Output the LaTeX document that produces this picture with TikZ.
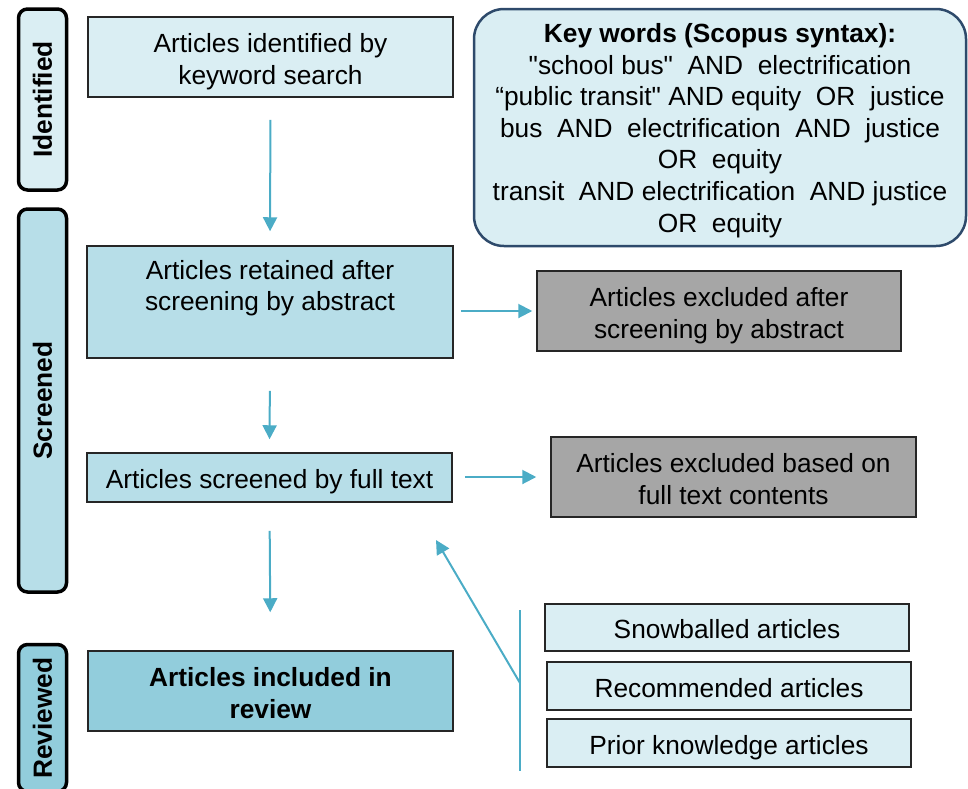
\documentclass[tikz,border=0pt]{standalone}
\usepackage{fontspec}
\setmainfont{Liberation Sans}[Ligatures=TeXOff]
\usetikzlibrary{arrows.meta}
\definecolor{lightblue}{HTML}{DAEEF3}
\definecolor{midblue}{HTML}{B7DEE8}
\definecolor{darkblue}{HTML}{92CDDC}
\definecolor{greybox}{HTML}{A6A6A6}
\definecolor{arrowcol}{HTML}{4BACC6}
\definecolor{navyline}{HTML}{2E4A6B}
\newcommand{\mystrutT}{\rule{0pt}{28.5pt}}
\newcommand{\mystrutB}{\rule[-6pt]{0pt}{6pt}}
\newcommand{\kwstrutT}{\rule{0pt}{26pt}}
\newcommand{\kwstrutB}{\rule[-6.5pt]{0pt}{6.5pt}}
\begin{document}
\begin{tikzpicture}[x=1pt,y=-1pt,
  font=\fontsize{26.3}{31.6}\selectfont,
  box/.style={draw=black!85, line width=1.5pt, inner sep=0pt, align=center},
  phase/.style={draw=black, line width=3.5pt, rounded corners=9pt, inner sep=0pt, rotate=90, minimum height=48pt, font=\fontsize{26.3}{31.6}\selectfont\bfseries},
  flow/.style={draw=arrowcol, line width=2pt, -{Triangle[length=14pt,width=14pt]}},
  feed/.style={draw=arrowcol, line width=2pt},
]
\useasboundingbox (0,0) rectangle (968,788);
\clip (0,0) rectangle (968,788);

% phase labels
\node[phase, fill=lightblue, minimum width=181pt] (phid) at (42.5,99.5) {Identified};
\node[phase, fill=midblue, minimum width=383pt] (phsc) at (42.5,400.5) {Screened};
\node[phase, fill=darkblue, minimum width=147pt] (phre) at (42.5,718) {Reviewed};

% main flow
\node[box, fill=lightblue, minimum width=365pt, minimum height=80pt] (ident) at (270.5,57) {\mystrutT Articles identified by\\keyword search\mystrutB};
\node[box, fill=midblue, minimum width=366pt, minimum height=112pt] (retain) at (270,302) {};
\node[align=center, inner sep=0pt] (retaintext) at (270,288) {Articles retained after\\screening by abstract};
\node[box, fill=midblue, minimum width=365pt, minimum height=49pt] (full) at (269.5,477.5) {\mystrutT Articles screened by full text\mystrutB};
\node[box, fill=darkblue, minimum width=365pt, minimum height=80pt, font=\fontsize{26.3}{31.6}\selectfont\bfseries] (incl) at (270.5,691) {\mystrutT Articles included in\\review\mystrutB};

% excluded
\node[box, fill=greybox, minimum width=364pt, minimum height=80pt] (excl1) at (719,311) {\mystrutT Articles excluded after\\screening by abstract\mystrutB};
\node[box, fill=greybox, minimum width=365pt, minimum height=80pt] (excl2) at (733.5,477) {\mystrutT Articles excluded based on\\full text contents\mystrutB};

% keyword box
\node[draw=navyline, line width=2.5pt, fill=lightblue, rounded corners=30pt, minimum width=492pt, minimum height=237pt, inner sep=0pt, align=center] (kw) at (720,127.5)
{\kwstrutT{\bfseries Key words (Scopus syntax):}\\
"school bus"~ AND~ electrification\\
“public transit" AND equity~ OR~ justice\\
bus~ AND~ electrification~ AND~ justice\\
OR~ equity\\
transit~ AND electrification~ AND justice\\
OR~ equity\kwstrutB};

% additional sources
\node[box, fill=lightblue, minimum width=364pt, minimum height=47pt] (snow) at (727,627.5) {\mystrutT Snowballed articles\mystrutB};
\node[box, fill=lightblue, minimum width=364pt, minimum height=48pt] (recom) at (729,686) {\mystrutT Recommended articles\mystrutB};
\node[box, fill=lightblue, minimum width=364pt, minimum height=48pt] (prior) at (729,743) {\mystrutT Prior knowledge articles\mystrutB};

% connectors
\draw[flow, shorten <=22pt, shorten >=14pt] (ident.south) -- (retain.north);
\draw[flow, shorten <=32pt, shorten >=13pt] (retain.south) -- (full.north);
\draw[flow, shorten <=28pt, shorten >=38pt] (full.south) -- (incl.north);
\draw[flow, shorten <=7pt, shorten >=4pt] (retain.east |- excl1.west) -- (excl1.west);
\draw[flow, shorten <=12pt, shorten >=14pt] (full.east |- excl2.west) -- (excl2.west);

\coordinate (vtop) at (520,610);
\coordinate (vbot) at (520,771);
\coordinate (vmid) at (520,683);
\coordinate (fbtip) at (436,540);
\draw[feed] (vtop) -- (vbot);
\draw[flow] (vmid) -- (fbtip);
\end{tikzpicture}
\end{document}
